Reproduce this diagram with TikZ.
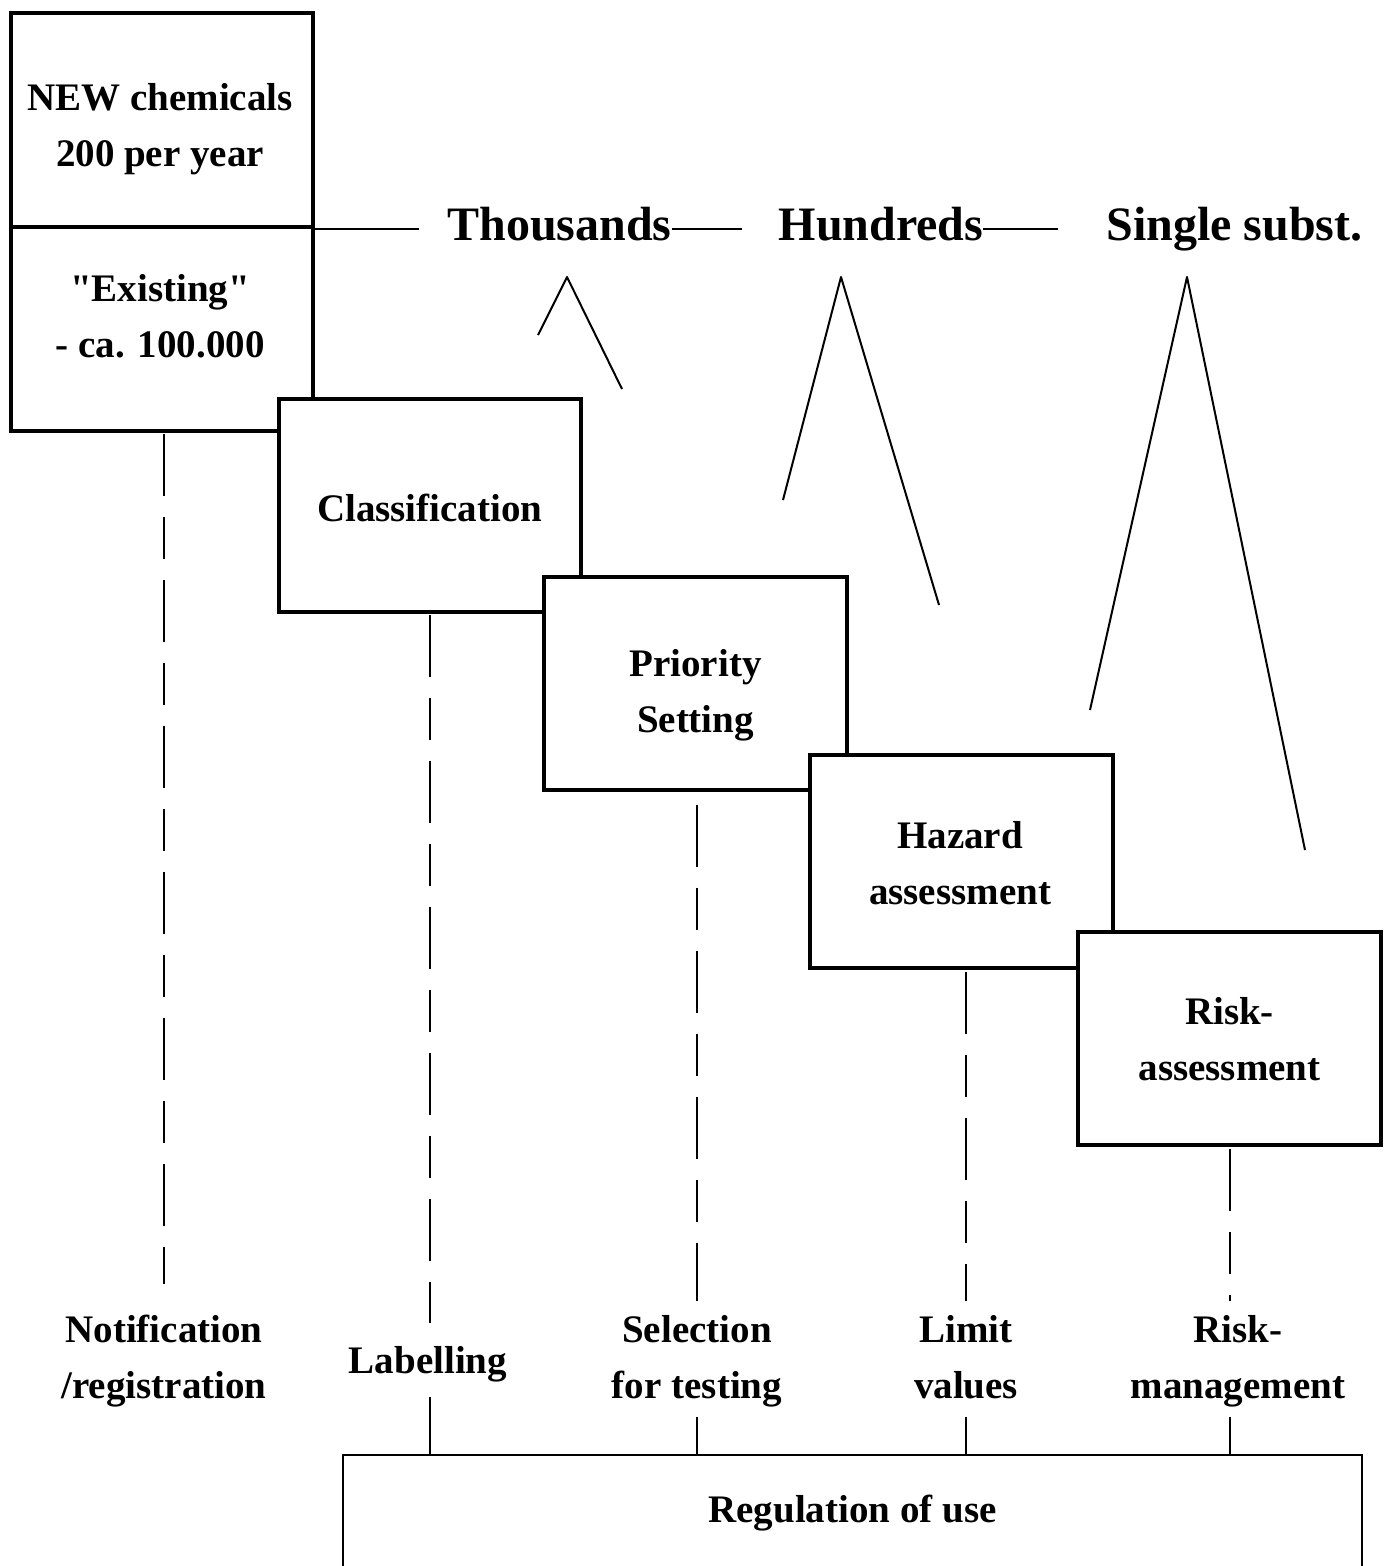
\documentclass[tikz,border=0pt]{standalone}
\usepackage{fontspec}
\setmainfont{Liberation Serif}
\newfontfamily\qfont{Liberation Serif}[Ligatures=TeXOff]
\newcommand\ls{\rule[-11pt]{0pt}{44pt}}
\newcommand\smalltxt{\fontsize{39}{56}\selectfont\bfseries}
\newcommand\bigtxt{\fontsize{48}{58}\selectfont\bfseries}
\begin{document}
\begin{tikzpicture}[x=1pt,y=-1pt,
  stage/.style={draw, line width=4pt, fill=white, minimum width=302.5pt, minimum height=213pt, inner sep=0pt},
  lbl/.style={inner sep=0pt, align=center, font=\smalltxt},
  big/.style={inner sep=0pt, font=\bigtxt},
  dashln/.style={line width=2pt, dash pattern=on 62pt off 21pt on 42pt off 21pt},
  thinln/.style={line width=2pt},
  peak/.style={line width=2pt, line join=round}]
\useasboundingbox (0,0) rectangle (1386,1566);

% stage boxes (later ones overlap earlier ones)
\node[stage, minimum height=214pt] (newc) at (161.75,120) {};
\node[stage, minimum height=204pt] (exist) at (161.75,329) {};
\node[lbl] (newct) at (160,127) {\ls NEW chemicals\\\ls 200 per year};
\node[lbl] (existt) at (160,318.5) {\ls {\qfont "Existing"}\\\ls - ca. 100.000};

\node[stage] (cls) at (429.75,505) {};
\node[lbl] (clst) at (429.75,510) {\ls Classification};

\node[stage] (prio) at (695.5,683) {};
\node[lbl] (priot) at (695.5,693) {\ls Priority\\\ls Setting};

\node[stage] (haz) at (961.5,861.5) {};
\node[lbl] (hazt) at (960,865.5) {\ls Hazard\\\ls assessment};

\node[stage] (risk) at (1229.5,1038.5) {};
\node[lbl] (riskt) at (1229.5,1041.5) {\ls Risk-\\\ls assessment};

% top scale
\node[big, anchor=base] (thou) at (559.5,240) {Thousands};
\node[big, anchor=base] (hund) at (881,240) {Hundreds};
\node[big, anchor=base] (sing) at (1234.5,240) {Single subst.};
\draw[thinln] (newc.south east) -- ([xshift=-28pt]newc.south east -| thou.west);
\draw[thinln] (thou.east |- newc.south east) -- ([xshift=-37pt]hund.west |- newc.south east);
\draw[thinln] (hund.east |- newc.south east) -- ([xshift=-48pt]sing.west |- newc.south east);

% peaks
\draw[peak] (538,335) -- (567,277) -- (622,389);
\draw[peak] (783,500) -- (841,277) -- (939,605);
\draw[peak] (1090,710) -- (1187,277) -- (1305,850);

% bottom labels and regulation box
\node[lbl] (notif) at (164,1359.5) {\ls Notification\\\ls /registration};
\node[lbl] (labl) at (428,1362) {\ls Labelling};
\node[lbl] (sel) at (697,1359.5) {\ls Selection\\\ls for testing};
\node[lbl] (lim) at (966,1359.5) {\ls Limit\\\ls values};
\node[lbl] (rman) at (1238,1359.5) {\ls Risk-\\\ls management};
\node[draw, line width=2pt, minimum width=1019pt, minimum height=113pt, inner sep=0pt, font=\smalltxt] (reg) at (852.5,1511.5) {\ls Regulation of use};

% vertical connectors
\draw[dashln, shorten <=1pt, shorten >=25pt] (notif.north |- exist.south) -- (notif.north);
\draw[dashln, shorten <=1pt, shorten >=17pt] (cls.south) -- (cls.south |- labl.north);
\draw[dashln, shorten <=13pt] (cls.south |- labl.south) -- (cls.south |- reg.north);
\draw[dashln, shorten <=13pt, shorten >=8pt] (sel.north |- prio.south) -- (sel.north);
\draw[dashln, shorten <=7pt] (sel.south) -- (sel.south |- reg.north);
\draw[dashln, shorten <=2pt, shorten >=8pt] (lim.north |- haz.south) -- (lim.north);
\draw[dashln, shorten <=7pt] (lim.south) -- (lim.south |- reg.north);
\draw[dashln, shorten <=2pt, shorten >=8pt] (risk.south) -- (risk.south |- rman.north);
\draw[dashln, shorten <=7pt] (risk.south |- rman.south) -- (risk.south |- reg.north);
\end{tikzpicture}
\end{document}
